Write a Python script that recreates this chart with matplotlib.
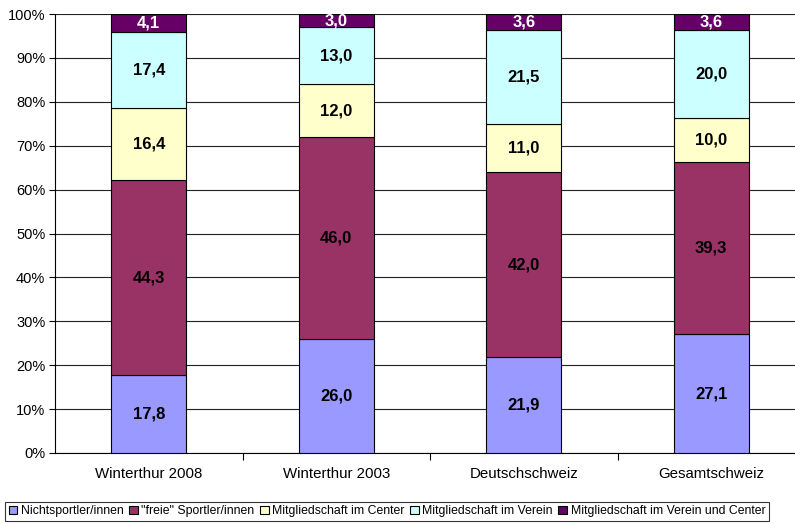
import numpy as np
import matplotlib
matplotlib.use("Agg")
import matplotlib.pyplot as plt
from matplotlib.ticker import FuncFormatter

categories = ["Winterthur 2008", "Winterthur 2003", "Deutschschweiz", "Gesamtschweiz"]
series_names = ["Nichtsportler/innen", '"freie" Sportler/innen', "Mitgliedschaft im Center",
                "Mitgliedschaft im Verein", "Mitgliedschaft im Verein und Center"]
nichtsportler = [17.8, 26.0, 21.9, 27.1]
freie = [44.3, 46.0, 42.0, 39.3]
center = [16.4, 12.0, 11.0, 10.0]
verein = [17.4, 13.0, 21.5, 20.0]
verein_center = [4.1, 3.0, 3.6, 3.6]

colors = ["#9999FF", "#993366", "#FFFFCC", "#CCFFFF", "#660066"]
text_colors = ["black", "black", "black", "black", "white"]

plt.rcParams['font.family'] = ['Liberation Sans', 'DejaVu Sans']

fig = plt.figure(figsize=(7.95, 5.23), dpi=100)
ax = fig.add_axes([55/795, 1-453/523, 750/795, 439/523])

x = np.arange(len(categories))
bottom = np.zeros(len(categories))
data = [nichtsportler, freie, center, verein, verein_center]
for vals, col, tc, name in zip(data, colors, text_colors, series_names):
    vals = np.array(vals)
    ax.bar(x, vals, 0.4, bottom=bottom, color=col, edgecolor="black", linewidth=0.8,
           label=name, zorder=3)
    for xi, b, v in zip(x, bottom, vals):
        ax.text(xi, b + v/2, ("%.1f" % v).replace(".", ","), ha="center", va="center",
                fontsize=12, fontweight="bold", color=tc, zorder=4)
    bottom += vals

ax.set_xlim(-0.5, 3.5)
ax.set_ylim(0, 100)
ax.set_yticks(np.arange(0, 101, 10))
ax.yaxis.set_major_formatter(FuncFormatter(lambda v, p: "%d%%" % v))
ax.yaxis.grid(True, color="#222222", linewidth=0.8, zorder=0)
ax.set_xticks(x)
ax.set_xticklabels(categories)
ax.set_xticks([0.5, 1.5, 2.5], minor=True)
ax.tick_params(axis="x", which="major", length=0, pad=10, labelsize=10.8)
ax.tick_params(axis="x", which="minor", length=5, width=0.8)
ax.tick_params(axis="y", length=4, width=0.8, labelsize=10.5, pad=3)
for s in ["top", "right"]:
    ax.spines[s].set_visible(False)
ax.spines["left"].set_linewidth(0.8)
ax.spines["bottom"].set_linewidth(0.8)

leg = fig.legend(loc="lower left", bbox_to_anchor=(5/795, 2/523), ncol=5, fontsize=8.8,
                 frameon=True, fancybox=False, edgecolor="black", handlelength=0.7,
                 handleheight=0.7, handletextpad=0.3, columnspacing=0.45,
                 borderpad=0.3, borderaxespad=0)
leg.get_frame().set_linewidth(0.8)

fig.savefig("out.png", dpi=100)
